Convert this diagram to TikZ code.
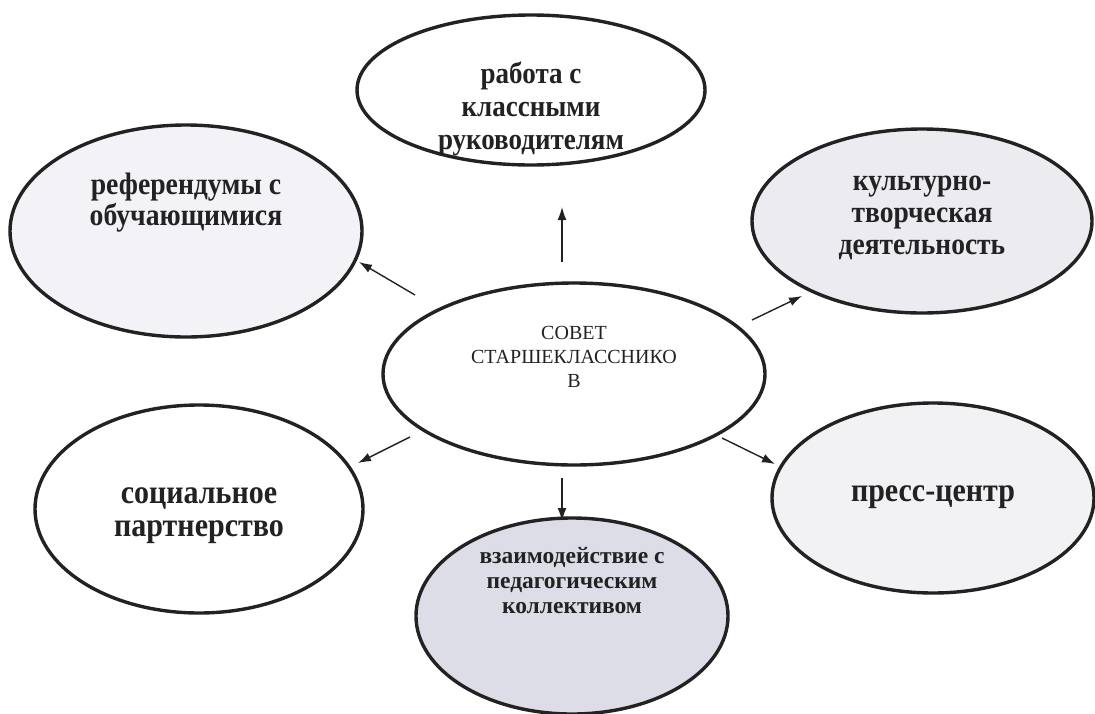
\documentclass[tikz,border=0pt]{standalone}
\usepackage{fontspec}
\usepackage{graphicx}
\setmainfont{Liberation Serif}
\usetikzlibrary{shapes.geometric,arrows.meta}
\definecolor{fillA}{HTML}{F3F3F7}
\definecolor{fillB}{HTML}{EBEBF0}
\definecolor{fillC}{HTML}{DCDDE6}
\definecolor{fillD}{HTML}{F2F2F5}
\definecolor{inkc}{HTML}{222222}
\newcommand\talltext[1]{\scalebox{1}[1.12]{\begin{tabular}{@{}c@{}}#1\end{tabular}}}
\tikzset{
  oval/.style={draw=inkc, line width=3.4pt, ellipse, inner sep=0pt},
  txt/.style={text=inkc, align=center, inner sep=0pt, font=\bfseries},
  captxt/.style={font=\fontsize{20}{24}\selectfont, text=inkc, align=center},
  arr/.style={draw=inkc, line width=1.4pt, -{Latex[length=13pt,width=9pt]}}
}
\begin{document}
\begin{tikzpicture}[x=1pt,y=-1pt]
\useasboundingbox (0,0) rectangle (1095,713);
% ellipses
\node[oval, fill=white, minimum width=348pt, minimum height=150pt] (top) at (531,90) {};
\node[oval, fill=fillA, minimum width=352pt, minimum height=212pt] (lt) at (186,231) {};
\node[oval, fill=fillB, minimum width=340pt, minimum height=184pt] (rt) at (922,221) {};
\node[oval, fill=white, minimum width=382pt, minimum height=182pt] (c) at (574,374) {};
\node[oval, fill=fillC, minimum width=312pt, minimum height=196pt] (bot) at (572,616) {};
\node[oval, fill=fillD, minimum width=322pt, minimum height=190pt] (pr) at (933,498) {};
\node[oval, fill=white, minimum width=328pt, minimum height=208pt] (sp) at (199,509) {};
% texts
\node[txt] (ttop) at (531,110) {\fontsize{27}{29.5}\selectfont\talltext{работа с\\классными\\руководителям}};
\node[txt] (tlt) at (186,204) {\fontsize{27.7}{27}\selectfont\talltext{референдумы с\\обучающимися}};
\node[txt] (trt) at (922,216) {\fontsize{27.5}{28.5}\selectfont\talltext{культурно-\\творческая\\деятельность}};
\node[captxt] (tc) at (574,357) {СОВЕТ\\СТАРШЕКЛАССНИКО\\В};
\node[txt] (tbot) at (572,583) {\fontsize{23.5}{25}\selectfont\begin{tabular}{@{}c@{}}взаимодействие с\\педагогическим\\коллективом\end{tabular}};
\node[txt] (tpr) at (933,495) {\fontsize{30}{30}\selectfont\talltext{пресс-центр}};
\node[txt] (tsp) at (199,513) {\fontsize{30}{29.5}\selectfont\talltext{социальное\\партнерство}};
% arrow end points
\coordinate (u1) at (562,262); \coordinate (u2) at (562,207);
\coordinate (l1) at (415,295); \coordinate (l2) at (359,262);
\coordinate (r1) at (752,320); \coordinate (r2) at (802,296);
\coordinate (bl1) at (410,437); \coordinate (bl2) at (358,463);
\coordinate (br1) at (722,438); \coordinate (br2) at (775,464);
\coordinate (d1) at (562,478); \coordinate (d2) at (562,521);
\draw[arr] (u1) -- (u2);
\draw[arr] (l1) -- (l2);
\draw[arr] (r1) -- (r2);
\draw[arr] (bl1) -- (bl2);
\draw[arr] (br1) -- (br2);
\draw[arr] (d1) -- (d2);
\end{tikzpicture}
\end{document}
